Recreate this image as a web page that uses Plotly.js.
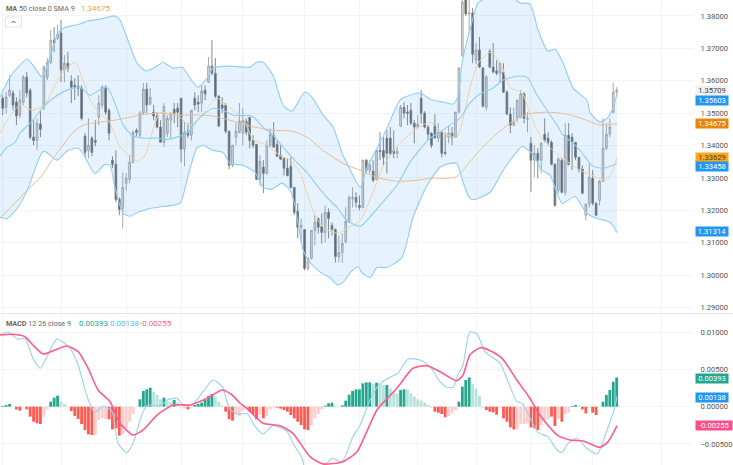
<!DOCTYPE html>
<html><head><meta charset="utf-8">
<script src="https://cdn.plot.ly/plotly-3.0.1.min.js"></script>
<style>html,body{margin:0;padding:0;background:#fff}#c{width:733px;height:465px}</style>
</head><body><div id="c"></div>
<script>
const opens=[1.3546,1.3518,1.3555,1.3562,1.3534,1.3494,1.3534,1.3611,1.3571,1.3426,1.3416,1.3466,1.3518,1.3611,1.3657,1.3725,1.3732,1.3747,1.3633,1.3654,1.3599,1.3586,1.3583,1.3577,1.3429,1.3385,1.3423,1.3416,1.3487,1.3525,1.3580,1.3509,1.3355,1.3342,1.3234,1.3206,1.3284,1.3296,1.3348,1.3447,1.3432,1.3500,1.3574,1.3528,1.3503,1.3491,1.3457,1.3410,1.3438,1.3478,1.3512,1.3515,1.3546,1.3389,1.3444,1.3432,1.3546,1.3534,1.3531,1.3571,1.3596,1.3645,1.3623,1.3552,1.3525,1.3525,1.3444,1.3339,1.3426,1.3441,1.3438,1.3475,1.3487,1.3416,1.3404,1.3296,1.3333,1.3314,1.3401,1.3432,1.3404,1.3370,1.3361,1.3330,1.3336,1.3271,1.3197,1.3148,1.3141,1.3021,1.3052,1.3138,1.3175,1.3151,1.3132,1.3194,1.3154,1.3141,1.3058,1.3070,1.3104,1.3163,1.3237,1.3240,1.3215,1.3209,1.3355,1.3324,1.3321,1.3296,1.3385,1.3385,1.3423,1.3423,1.3385,1.3376,1.3460,1.3518,1.3503,1.3509,1.3469,1.3457,1.3546,1.3500,1.3457,1.3438,1.3463,1.3423,1.3441,1.3379,1.3426,1.3438,1.3426,1.3503,1.3679,1.3864,1.3806,1.3809,1.3664,1.3695,1.3639,1.3518,1.3691,1.3642,1.3630,1.3623,1.3627,1.3565,1.3497,1.3463,1.3487,1.3487,1.3559,1.3481,1.3407,1.3355,1.3376,1.3355,1.3435,1.3423,1.3410,1.3342,1.3262,1.3355,1.3256,1.3432,1.3426,1.3410,1.3364,1.3327,1.3185,1.3219,1.3299,1.3222,1.3231,1.3290,1.3392,1.3435,1.3503,1.3565];
const closes=[1.3515,1.3549,1.3571,1.3525,1.3491,1.3540,1.3611,1.3562,1.3426,1.3416,1.3469,1.3450,1.3642,1.3657,1.3725,1.3716,1.3744,1.3633,1.3654,1.3639,1.3580,1.3580,1.3577,1.3484,1.3379,1.3401,1.3379,1.3410,1.3531,1.3580,1.3503,1.3438,1.3342,1.3234,1.3203,1.3271,1.3299,1.3348,1.3441,1.3441,1.3500,1.3574,1.3525,1.3549,1.3491,1.3457,1.3410,1.3521,1.3484,1.3500,1.3500,1.3503,1.3389,1.3441,1.3432,1.3509,1.3525,1.3528,1.3568,1.3559,1.3645,1.3623,1.3552,1.3460,1.3515,1.3444,1.3339,1.3401,1.3444,1.3475,1.3478,1.3441,1.3416,1.3401,1.3296,1.3351,1.3314,1.3401,1.3435,1.3395,1.3367,1.3358,1.3330,1.3308,1.3271,1.3194,1.3148,1.3154,1.3021,1.3052,1.3138,1.3163,1.3148,1.3132,1.3194,1.3175,1.3141,1.3058,1.3070,1.3098,1.3166,1.3240,1.3240,1.3225,1.3209,1.3355,1.3324,1.3339,1.3293,1.3385,1.3382,1.3364,1.3376,1.3376,1.3376,1.3382,1.3518,1.3500,1.3500,1.3469,1.3457,1.3466,1.3500,1.3457,1.3435,1.3401,1.3423,1.3441,1.3376,1.3376,1.3438,1.3426,1.3503,1.3639,1.3843,1.3806,1.3809,1.3682,1.3695,1.3642,1.3521,1.3611,1.3642,1.3627,1.3623,1.3654,1.3565,1.3497,1.3463,1.3472,1.3540,1.3559,1.3484,1.3484,1.3355,1.3376,1.3355,1.3407,1.3416,1.3410,1.3342,1.3215,1.3358,1.3256,1.3432,1.3342,1.3410,1.3364,1.3327,1.3253,1.3219,1.3302,1.3222,1.3185,1.3290,1.3392,1.3435,1.3457,1.3565,1.35709];
const highs=[1.3555,1.3565,1.3617,1.3571,1.3549,1.3571,1.3617,1.3627,1.3577,1.3478,1.3484,1.3509,1.3648,1.3670,1.3756,1.3766,1.3772,1.3787,1.3679,1.3688,1.3617,1.3608,1.3617,1.3586,1.3438,1.3484,1.3429,1.3478,1.3555,1.3586,1.3586,1.3515,1.3367,1.3385,1.3240,1.3317,1.3314,1.3370,1.3447,1.3453,1.3506,1.3593,1.3593,1.3577,1.3525,1.3503,1.3478,1.3531,1.3494,1.3503,1.3531,1.3531,1.3546,1.3472,1.3469,1.3509,1.3565,1.3555,1.3586,1.3586,1.3673,1.3725,1.3670,1.3555,1.3549,1.3531,1.3447,1.3401,1.3469,1.3531,1.3515,1.3484,1.3487,1.3432,1.3404,1.3370,1.3355,1.3416,1.3453,1.3472,1.3416,1.3401,1.3361,1.3361,1.3364,1.3271,1.3222,1.3175,1.3141,1.3055,1.3138,1.3185,1.3178,1.3191,1.3215,1.3206,1.3163,1.3144,1.3123,1.3129,1.3209,1.3246,1.3271,1.3256,1.3246,1.3355,1.3358,1.3355,1.3355,1.3385,1.3441,1.3426,1.3447,1.3457,1.3447,1.3395,1.3525,1.3534,1.3525,1.3531,1.3478,1.3494,1.3571,1.3506,1.3463,1.3441,1.3497,1.3469,1.3441,1.3441,1.3463,1.3457,1.3503,1.3642,1.3849,1.3880,1.3864,1.3824,1.3716,1.3735,1.3642,1.3617,1.3698,1.3716,1.3664,1.3657,1.3654,1.3571,1.3518,1.3518,1.3540,1.3571,1.3565,1.3503,1.3426,1.3401,1.3392,1.3410,1.3484,1.3441,1.3416,1.3345,1.3364,1.3361,1.3469,1.3469,1.3438,1.3410,1.3364,1.3339,1.3222,1.3345,1.3324,1.3225,1.3293,1.3484,1.3469,1.3484,1.3593,1.3580];
const lows=[1.3494,1.3500,1.3549,1.3509,1.3463,1.3484,1.3525,1.3549,1.3419,1.3401,1.3385,1.3426,1.3509,1.3602,1.3651,1.3688,1.3725,1.3596,1.3596,1.3627,1.3531,1.3540,1.3552,1.3478,1.3364,1.3361,1.3367,1.3398,1.3463,1.3515,1.3494,1.3416,1.3330,1.3225,1.3185,1.3144,1.3262,1.3284,1.3345,1.3429,1.3426,1.3494,1.3500,1.3525,1.3478,1.3453,1.3410,1.3395,1.3426,1.3423,1.3469,1.3457,1.3348,1.3336,1.3423,1.3416,1.3509,1.3503,1.3503,1.3540,1.3593,1.3617,1.3546,1.3457,1.3500,1.3438,1.3327,1.3333,1.3401,1.3438,1.3401,1.3432,1.3392,1.3392,1.3293,1.3277,1.3253,1.3311,1.3395,1.3395,1.3364,1.3355,1.3308,1.3305,1.3268,1.3185,1.3114,1.3101,1.3015,1.3015,1.3049,1.3092,1.3129,1.3098,1.3101,1.3114,1.3123,1.3039,1.3039,1.3039,1.3098,1.3163,1.3209,1.3209,1.3200,1.3206,1.3317,1.3314,1.3287,1.3293,1.3355,1.3339,1.3314,1.3370,1.3361,1.3361,1.3457,1.3484,1.3463,1.3463,1.3407,1.3453,1.3469,1.3453,1.3416,1.3392,1.3423,1.3410,1.3364,1.3370,1.3407,1.3401,1.3423,1.3500,1.3673,1.3800,1.3747,1.3654,1.3651,1.3639,1.3518,1.3509,1.3639,1.3623,1.3617,1.3593,1.3562,1.3494,1.3438,1.3460,1.3472,1.3484,1.3469,1.3441,1.3256,1.3302,1.3299,1.3314,1.3410,1.3401,1.3339,1.3212,1.3253,1.3253,1.3246,1.3339,1.3324,1.3355,1.3317,1.3250,1.3169,1.3209,1.3215,1.3182,1.3215,1.3287,1.3385,1.3426,1.3500,1.3555];

const upperBars=[-0.8,2.1,5.0,7.1,8.8,11.5,13.8,16.1,17.6,22.5,24.6,28.4,32.7,34.2,36.5,39.2,41.8,45.0,46.7,49.7,52.3,54.6,56.9,59.6,61.3,66.3,72.1,74.1,75.9,78.8,81.7,84.3,88.1,90.2,93.4,96.3,99.2,100.4,104.2,106.2,108.5,112.0,115.8,117.9,121.7,124.6,128.4,131.3,132.7,133.9,136.2,138.6,141.2,148.8,150.8,153.7,156.1,158.9,161.0,163.4,166.3,170.3,171.2,174.1,176.2,177.9,179.1];
const upperBand=[1.3549,1.3611,1.3648,1.3667,1.3648,1.3611,1.3673,1.3747,1.3762,1.3775,1.3784,1.3790,1.3800,1.3787,1.3725,1.3654,1.3630,1.3645,1.3657,1.3639,1.3642,1.3608,1.3580,1.3608,1.3639,1.3645,1.3642,1.3657,1.3657,1.3617,1.3525,1.3506,1.3565,1.3549,1.3494,1.3457,1.3370,1.3345,1.3271,1.3333,1.3379,1.3453,1.3540,1.3552,1.3562,1.3543,1.3534,1.3528,1.3549,1.3654,1.3756,1.3840,1.3855,1.3855,1.3840,1.3837,1.3756,1.3691,1.3698,1.3654,1.3577,1.3540,1.3503,1.3472,1.3484,1.3515,1.35603];
const lowerBars=[-0.8,1.3,4.2,7.4,10.0,11.5,12.3,15.8,19.0,22.0,23.4,26.9,29.8,31.3,32.7,35.1,37.1,39.4,42.9,46.7,51.7,53.7,56.6,58.4,61.3,64.2,66.3,70.1,73.6,75.9,78.5,81.4,83.8,85.2,87.6,89.6,93.1,95.4,97.5,99.2,101.3,103.6,104.7,107.1,109.1,112.0,116.4,119.6,123.7,127.5,130.4,132.4,134.2,136.2,137.7,142.1,145.9,150.2,151.4,154.3,157.2,159.6,163.1,166.8,170.3,173.3,177.1,179.1];
const lowerBand=[1.3178,1.3175,1.3206,1.3268,1.3345,1.3379,1.3382,1.3355,1.3385,1.3392,1.3376,1.3314,1.3342,1.3339,1.3271,1.3191,1.3182,1.3194,1.3206,1.3212,1.3222,1.3293,1.3392,1.3401,1.3385,1.3379,1.3345,1.3339,1.3317,1.3271,1.3265,1.3284,1.3262,1.3215,1.3077,1.3039,1.3005,1.2993,1.2971,1.2978,1.3008,1.3027,1.3008,1.2993,1.3024,1.3024,1.3055,1.3178,1.3277,1.3333,1.3345,1.3345,1.3287,1.3237,1.3234,1.3256,1.3324,1.3385,1.3398,1.3376,1.3324,1.3308,1.3222,1.3243,1.3191,1.3175,1.3163,1.31314];
const midBars=[-0.8,1.3,3.6,5.0,8.8,11.5,14.7,18.7,22.5,25.5,29.0,30.7,32.7,35.1,37.7,40.9,45.0,47.9,50.8,53.7,57.5,61.3,64.2,67.1,72.7,75.9,78.8,80.8,84.6,88.7,91.6,94.5,97.5,100.4,104.2,108.0,112.0,114.9,118.7,121.7,124.6,127.5,130.4,133.3,136.2,139.1,142.9,145.9,149.9,152.9,155.8,158.7,161.6,163.4,166.3,168.3,171.8,174.7,177.9,179.1];
const midBand=[1.3367,1.3395,1.3410,1.3438,1.3478,1.3515,1.3546,1.3571,1.3580,1.3555,1.3577,1.3577,1.3531,1.3463,1.3432,1.3423,1.3423,1.3419,1.3426,1.3438,1.3487,1.3515,1.3509,1.3494,1.3491,1.3457,1.3432,1.3407,1.3361,1.3317,1.3277,1.3240,1.3209,1.3169,1.3151,1.3191,1.3240,1.3277,1.3348,1.3389,1.3423,1.3441,1.3463,1.3484,1.3531,1.3559,1.3577,1.3602,1.3614,1.3611,1.3555,1.3509,1.3463,1.3432,1.3407,1.3385,1.3339,1.3330,1.3339,1.33458];
const ma50Bars=[-0.8,8.0,11.5,14.7,17.6,20.5,23.4,28.4,34.2,40.0,45.9,51.7,57.5,61.3,66.3,72.1,78.8,84.6,88.7,93.4,99.2,104.2,109.1,114.9,120.8,124.6,129.0,131.9,133.3,138.3,142.9,147.9,152.9,158.7,164.5,170.3,174.1,179.1];
const ma50=[1.3175,1.3271,1.3308,1.3361,1.3401,1.3441,1.3463,1.3472,1.3481,1.3494,1.3500,1.3494,1.3494,1.3491,1.3478,1.3460,1.3447,1.3444,1.3426,1.3385,1.3345,1.3324,1.3302,1.3290,1.3293,1.3299,1.3299,1.3302,1.3314,1.3376,1.3426,1.3469,1.3497,1.3503,1.3497,1.3478,1.3463,1.34675];
const sma9Bars=[-0.8,1.3,5.0,8.8,12.3,13.8,17.6,21.1,23.1,25.5,28.4,31.3,34.2,37.1,39.4,41.5,43.5,45.9,50.8,54.6,57.5,60.4,62.5,66.3,70.1,73.0,77.1,80.8,83.8,86.7,88.7,91.1,93.4,97.5,100.4,104.2,108.0,110.9,115.8,120.8,124.6,128.4,132.4,135.4,136.2,138.6,142.1,145.0,147.9,151.4,153.7,156.6,160.4,162.5,168.3,173.3,175.6,177.6,179.1];
const sma9=[1.3438,1.3478,1.3525,1.3509,1.3525,1.3555,1.3627,1.3657,1.3611,1.3540,1.3500,1.3469,1.3395,1.3370,1.3351,1.3370,1.3438,1.3500,1.3494,1.3463,1.3487,1.3525,1.3546,1.3515,1.3484,1.3419,1.3401,1.3370,1.3355,1.3317,1.3253,1.3185,1.3148,1.3129,1.3144,1.3169,1.3256,1.3336,1.3407,1.3453,1.3472,1.3441,1.3426,1.3540,1.3577,1.3654,1.3688,1.3657,1.3580,1.3562,1.3500,1.3432,1.3385,1.3367,1.3324,1.3302,1.3293,1.3317,1.33629];

const macdBars=[-0.8,1.5,4.5,6.5,8.8,10.9,12.9,15.8,19.6,22.0,24.6,26.9,29.2,31.9,33.6,36.2,38.0,40.9,42.4,45.9,47.9,50.8,52.6,55.2,58.4,61.3,64.0,66.3,69.2,71.2,73.6,75.9,78.8,82.9,84.6,87.3,88.1,91.0,94.0,96.0,98.9,102.1,104.2,107.1,110.0,113.8,115.2,118.2,121.7,124.6,127.5,129.5,131.3,132.7,134.2,136.2,138.3,140.6,145.0,149.9,151.4,156.1,158.9,161.6,163.1,164.8,167.4,170.3,173.3,176.2,178.5,179.1];
const macdLine=[0.00964,0.01004,0.00906,0.00919,0.00650,0.00516,0.00672,0.00910,0.00785,0.00560,0.00134,-0.00081,0.00009,-0.00067,-0.00492,-0.00618,-0.00492,-0.00067,0.00023,0.00009,0.00090,0.00113,0.00023,0.00023,0.00202,0.00359,0.00269,-0.00044,-0.00098,-0.00089,-0.00269,-0.00367,-0.00255,-0.00336,-0.00492,-0.00694,-0.00824,-0.00851,-0.00784,-0.00694,-0.00739,-0.00403,-0.00246,0.00090,0.00314,0.00417,0.00449,0.00641,0.00628,0.00538,0.00336,0.00261,0.00261,0.00426,0.00560,0.01004,0.00977,0.00739,0.00583,0.00067,0.00046,-0.00349,-0.00403,-0.00582,-0.00613,-0.00492,-0.00425,-0.00559,-0.00636,-0.00313,0,0.00138];
const signalBars=[-0.8,3.0,6.5,8.8,11.8,15.2,18.7,22.0,24.9,27.8,31.3,34.2,38.0,40.9,45.0,49.7,54.6,59.6,64.0,66.9,69.2,71.2,75.9,80.8,84.6,89.6,93.4,99.2,103.3,109.1,114.9,119.6,123.7,127.5,132.4,134.2,136.2,139.2,142.1,145.6,149.9,153.7,156.6,161.6,165.4,169.2,174.1,176.5,179.1];
const signalLine=[0.00964,0.00973,0.00941,0.00829,0.00708,0.00762,0.00816,0.00739,0.00516,0.00224,0.00067,-0.00223,-0.00380,-0.00313,-0.00112,0.00023,0.00023,0.00113,0.00224,0.00157,0.00046,-0.00022,-0.00223,-0.00255,-0.00358,-0.00672,-0.00770,-0.00739,-0.00605,-0.00044,0.00247,0.00516,0.00551,0.00470,0.00349,0.00426,0.00695,0.00793,0.00753,0.00650,0.00359,0.00113,-0.00112,-0.00380,-0.00448,-0.00461,-0.00546,-0.00470,-0.00255];
const histogram=[0.00009,0.00022,0.00036,0,-0.00036,-0.00054,-0.00004,-0.00036,-0.00134,-0.00202,-0.00224,-0.00233,-0.00134,-0.00036,0.00067,0.00121,0.00148,0.00067,0.00036,-0.00009,-0.00058,-0.00125,-0.00166,-0.00233,-0.00314,-0.00372,-0.00381,-0.00381,-0.00179,-0.00157,-0.00166,-0.00170,-0.00305,-0.00291,-0.00390,-0.00372,-0.00291,-0.00202,-0.00099,-0.00004,0.00099,0.00211,0.00233,0.00255,0.00202,0.00157,0.00099,0.00121,0.00081,0.00067,0.00090,0.00054,-0.00013,-0.00022,-0.00036,-0.00009,0.00022,0.00036,0.00054,0.00090,0.00143,0.00170,0.00134,0.00067,0.00013,-0.00067,-0.00170,-0.00188,-0.00112,-0.00125,-0.00054,-0.00036,-0.00067,-0.00099,-0.00170,-0.00112,-0.00157,-0.00125,-0.00036,-0.00013,-0.00013,-0.00027,-0.00045,-0.00067,-0.00112,-0.00157,-0.00202,-0.00246,-0.00305,-0.00314,-0.00246,-0.00157,-0.00099,-0.00036,0.00013,0.00045,0.00054,0.00013,-0.00009,0.00018,0.00081,0.00161,0.00211,0.00233,0.00233,0.00314,0.00327,0.00327,0.00305,0.00323,0.00305,0.00291,0.00291,0.00246,0.00211,0.00179,0.00224,0.00233,0.00233,0.00179,0.00134,0.00099,0.00081,0.00054,0.00027,-0.00013,-0.00067,-0.00081,-0.00099,-0.00143,-0.00125,-0.00090,-0.00045,0.00067,0.00269,0.00358,0.00393,0.00305,0.00246,0.00143,-0.00013,-0.00045,-0.00067,-0.00076,-0.00108,-0.00013,-0.00157,-0.00202,-0.00278,-0.00305,-0.00305,-0.00233,-0.00233,-0.00224,-0.00278,-0.00291,-0.00314,-0.00246,-0.00188,-0.00170,-0.00134,-0.00260,-0.00157,-0.00202,-0.00099,-0.00081,0.00009,0.00022,0.00013,-0.00036,-0.00090,-0.00013,-0.00081,-0.00112,-0.00004,0.00067,0.00157,0.00224,0.00336,0.00393];
const histStrong=[1,1,1,0,1,1,0,1,1,1,1,1,0,0,1,1,1,0,0,0,1,1,1,1,1,1,1,0,0,0,0,1,1,1,1,0,0,0,0,0,1,1,1,1,0,0,0,1,0,0,1,0,0,0,1,0,1,1,1,1,1,1,0,0,0,1,1,1,0,0,0,0,1,1,1,0,1,0,0,0,1,1,1,1,1,1,1,1,1,1,0,0,0,0,1,1,1,0,0,1,1,1,1,1,1,1,1,1,0,1,0,0,1,0,0,0,1,1,0,0,0,0,0,0,0,0,1,1,1,1,0,0,0,1,1,1,1,0,0,0,0,1,1,1,1,0,1,1,1,1,0,0,0,0,1,1,1,0,0,0,1,1,0,1,0,0,1,1,0,1,1,0,1,1,0,1,1,1,1,1];

const gridBars=[0,17,36,52,70,88,104,121,138,154,172,192];
const priceTicks=[1.29,1.30,1.31,1.32,1.33,1.34,1.35,1.36,1.37,1.38];
const macdTicks=[-0.005,0,0.005,0.01];
const priceTags=[["1.35709","#f0f0f0","#444",90],["1.35603","#2196f3","#fff",100],["1.34675","#e8860c","#fff",123.4],["1.33629","#f7a823","#5a4010",157.4],["1.33458","#2196f3","#fff",166.7],["1.31314","#2196f3","#fff",231.7],["0.00393","#22a68f","#fff",378],["0.00138","#2196f3","#fff",397],["-0.00255","#ff4d8a","#fff",425.7]];

const W=733,H=465,plotRight=693,splitY=313.5;
const FONT='Roboto, sans-serif', FS=7.6;
const px=x=>x/W, py=y=>1-y/H;
const barsIdx=opens.map((_,i)=>i);

const blue='#90cdf8', tan='#f0d2a6', orange='#ecbc94';
const line=(x,y,color,width,yaxis,name)=>({type:'scatter',mode:'lines',x,y,yaxis,name,hoverinfo:'skip',
  line:{color,width,shape:'spline',smoothing:0.6}});

const traces=[
 {type:'scatter',mode:'lines',x:upperBars.concat(lowerBars.slice().reverse()),y:upperBand.concat(lowerBand.slice().reverse()),
  fill:'toself',fillcolor:'rgba(33,150,243,0.115)',line:{width:0,color:'rgba(0,0,0,0)',shape:'linear'},yaxis:'y',hoverinfo:'skip',name:'band'},
 line(sma9Bars,sma9,tan,1,'y','SMA 9'),
 line(ma50Bars,ma50,orange,1,'y','MA 50'),
 line(upperBars,upperBand,blue,1.1,'y','upper'),
 line(midBars,midBand,blue,1.1,'y','mid'),
 line(lowerBars,lowerBand,blue,1.1,'y','lower'),
 {type:'candlestick',x:barsIdx,open:opens,high:highs,low:lows,close:closes,yaxis:'y',whiskerwidth:0,hoverinfo:'skip',
  increasing:{line:{color:'#a0a0a0',width:0.9},fillcolor:'#e2e2e2'},
  decreasing:{line:{color:'#7c7c7c',width:0.9},fillcolor:'#606060'}},
 {type:'bar',x:barsIdx,y:histogram,yaxis:'y2',width:0.82,hoverinfo:'skip',
  marker:{line:{width:0},color:histogram.map((v,i)=>v>=0?(histStrong[i]?'#26a68f':'#b5e3da'):(histStrong[i]?'#ff5a52':'#ffcbcb'))}},
 line(macdBars,macdLine,'#98d0f8',1.1,'y2','MACD'),
 line(signalBars,signalLine,'#ff5c8d',1.6,'y2','Signal')
];

const tag=(t)=>({xref:'paper',yref:'paper',x:px(695),y:py(t[3]),xanchor:'left',yanchor:'middle',text:t[0],showarrow:false,
  bgcolor:t[1],font:{family:FONT,size:FS,color:t[2]},width:t[0].length>7?36:32,height:9,align:'center',borderpad:0,captureevents:false});
const note=(x,y,text,color,size)=>({xref:'paper',yref:'paper',x:px(x),y:py(y),xanchor:'left',yanchor:'middle',text,showarrow:false,
  font:{family:FONT,size,color},align:'left',borderpad:0,captureevents:false});

const axisY={side:'right',anchor:'x',showline:false,zeroline:false,showgrid:true,gridcolor:'#f4f4f4',gridwidth:1,ticks:'outside',ticklen:5,tickcolor:'rgba(0,0,0,0)',
  tickmode:'array',tickformat:'.5f',tickfont:{family:FONT,size:FS,color:'#555'},fixedrange:true};

const layout={
 width:W,height:H,margin:{l:0,r:0,t:0,b:0},paper_bgcolor:'#fff',plot_bgcolor:'#fff',showlegend:false,barmode:'overlay',
 xaxis:{domain:[0,plotRight/W],range:[-0.79,201.25],anchor:'y',tickmode:'array',tickvals:gridBars,showticklabels:false,ticks:'',showgrid:true,gridcolor:'#f4f4f4',gridwidth:1,zeroline:false,showline:false,rangeslider:{visible:false},fixedrange:true},
 yaxis:Object.assign({},axisY,{domain:[1-splitY/H,1],range:[1.2882,1.3849],tickvals:priceTicks}),
 yaxis2:Object.assign({},axisY,{domain:[0,1-(splitY+0.5)/H],range:[-0.00784,0.01246],tickvals:macdTicks}),
 shapes:[
  {type:'line',xref:'paper',yref:'paper',x0:0,x1:1,y0:py(splitY),y1:py(splitY),line:{color:'#e6e6e6',width:1}},
  {type:'rect',xref:'paper',yref:'paper',x0:px(5.5),x1:px(21.5),y0:py(17),y1:py(27),line:{color:'#e4e4e4',width:1},fillcolor:'#fff'},
  {type:'path',xref:'paper',yref:'paper',path:`M ${px(11.5)} ${py(23)} L ${px(13.5)} ${py(21)} L ${px(15.5)} ${py(23)}`,line:{color:'#555',width:1}}
 ],
 annotations:[
  note(5,8,'<b>MA</b> 50 close 0 SMA 9','#666',7.2),
  note(80,8,'1.34675','#eba45e',8),
  note(5,323,'<b>MACD</b> 12 26 close 9','#666',7.2),
  note(78,323,'0.00393','#26a69a',8),
  note(109,323,'0.00138','#5fb4f5',8),
  note(139,323,'-0.00255','#ff5c8d',8)
 ].concat(priceTags.map(tag))
};
Plotly.newPlot('c',traces,layout,{staticPlot:true,displayModeBar:false});
</script></body></html>
